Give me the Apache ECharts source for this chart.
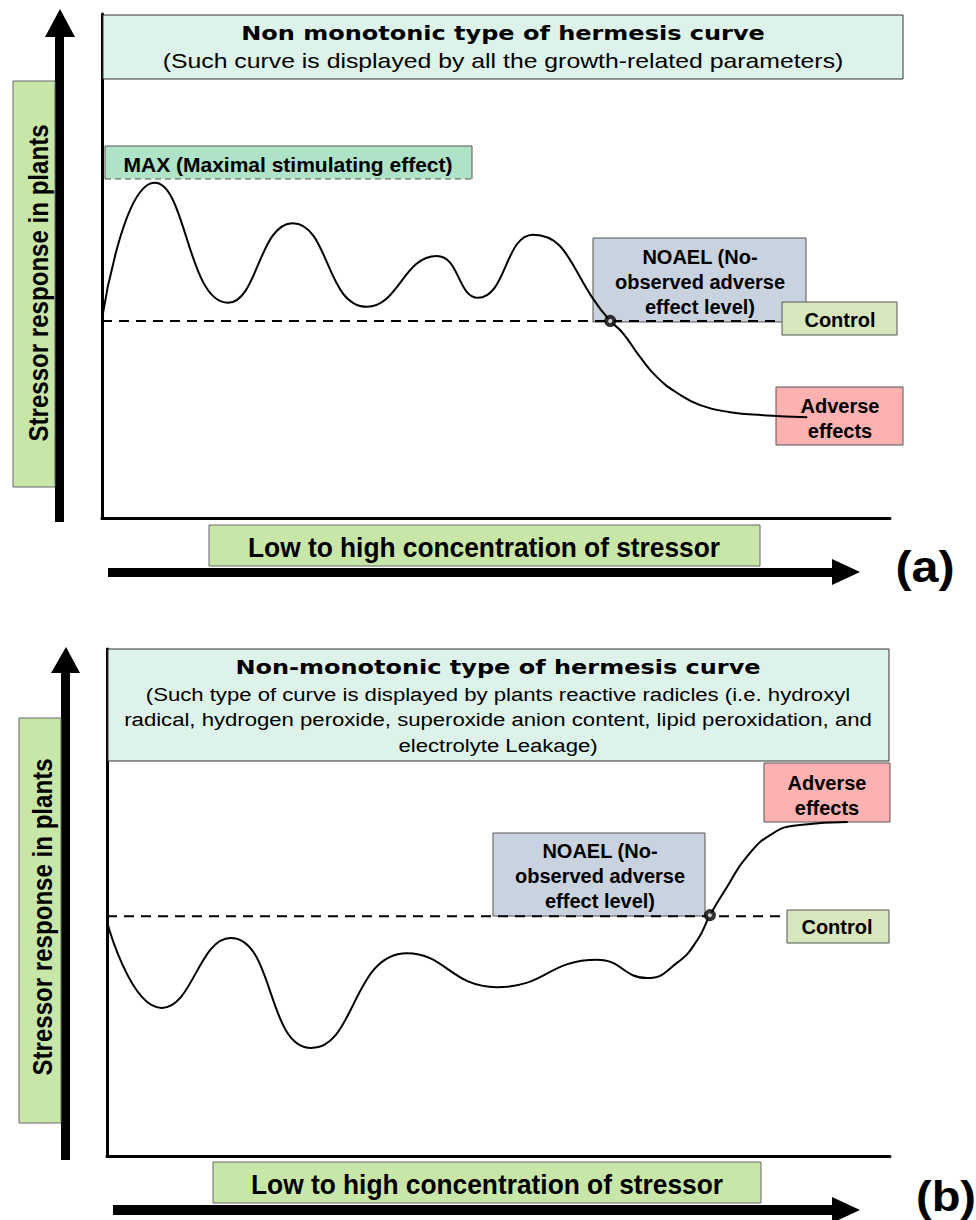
<!DOCTYPE html>
<html>
<head>
<meta charset="utf-8">
<script src="https://cdn.jsdelivr.net/npm/echarts@6/dist/echarts.min.js"></script>
<style>
  html, body { margin: 0; padding: 0; background: #fff; }
  #main { width: 976px; height: 1220px; }
</style>
</head>
<body>
<div id="main"></div>
<script>
// (a) growth-related parameters, x = concentration (0-100), y = response (0-100)
const concA = [0, 6.7, 16.0, 24.2, 33.6, 42.5, 47.7, 54.7, 64.5, 66.1, 68.3, 70.4, 73.0, 75.9, 79.7, 83.9, 89.5];
const respA = [39.5, 66.5, 42.7, 58.5, 41.9, 52.0, 43.7, 56.2, 39.1, 36.7, 31.9, 28.0, 24.8, 22.4, 21.0, 20.4, 20.0];
const controlA = 39.1;
const controlEndA = 86.3;
const noaelA = [64.5, 39.1];

// (b) reactive radicles
const concB = [0, 7.0, 15.8, 26.1, 38.3, 49.8, 62.6, 69.0, 72.8, 75.4, 77.0, 79.2, 81.7, 85.1, 88.5, 94.6];
const respB = [46.2, 29.2, 43.0, 21.3, 40.0, 33.3, 38.7, 35.1, 38.1, 42.6, 47.5, 53.1, 59.0, 63.7, 65.3, 65.9];
const controlB = 47.3;
const controlEndB = 86.6;
const noaelB = [77.0, 47.5];

const titleA = 'Non monotonic type of hermesis curve';
const subA = '(Such curve is displayed by all the growth-related parameters)';
const titleB = 'Non-monotonic type of hermesis curve';
const subB = [
  '(Such type of curve is displayed by plants reactive radicles (i.e. hydroxyl',
  'radical, hydrogen peroxide, superoxide anion content, lipid peroxidation, and',
  'electrolyte Leakage)'
];
const yName = 'Stressor response in plants';
const xName = 'Low to high concentration of stressor';
const maxText = 'MAX (Maximal stimulating effect)';
const noaelText = 'NOAEL (No-\nobserved adverse\neffect level)';
const controlText = 'Control';
const adverseText = 'Adverse\neffects';

const zip = (xs, ys) => xs.map((x, i) => [x, ys[i]]);

const SANS = "'Liberation Sans', Arial, sans-serif";
const WIDE = "'DejaVu Sans', Verdana, sans-serif";

function box(x, y, w, h, fill, stroke) {
  return { type: 'rect', z: 1, shape: { x: x, y: y, width: w, height: h },
    style: { fill: fill, stroke: stroke || '#555', lineWidth: 1 } };
}
function txt(x, y, text, font, opt) {
  opt = opt || {};
  return { type: 'text', z: 3, x: x, y: y, scaleX: opt.sx || 1, rotation: opt.rot || 0,
    style: { text: text, font: font, fill: '#000', align: 'center', verticalAlign: 'middle',
      textAlign: 'center', textVerticalAlign: 'middle', lineHeight: opt.lh || 20 } };
}
function arrow(pts) {
  return { type: 'polygon', z: 1, shape: { points: pts }, style: { fill: '#000' } };
}

const axisStyle = {
  type: 'value', min: 0, max: 100,
  axisLine: { show: true, onZero: false, lineStyle: { color: '#000', width: 3 } },
  axisTick: { show: false }, axisLabel: { show: false }, splitLine: { show: false }
};

const chart = echarts.init(document.getElementById('main'), null, { renderer: 'svg' });

const curve = (name, idx, data) => ({
  name: name, type: 'line', xAxisIndex: idx, yAxisIndex: idx, z: 5,
  data: data, smooth: 0.5, showSymbol: false, silent: true,
  lineStyle: { color: '#000', width: 2 }
});
const control = (idx, y, end) => ({
  type: 'line', xAxisIndex: idx, yAxisIndex: idx, z: 4, showSymbol: false, silent: true,
  data: [[0, y], [end, y]], lineStyle: { color: '#000', width: 2, type: [10, 7] }
});
const marker = (idx, pt) => ({
  type: 'scatter', xAxisIndex: idx, yAxisIndex: idx, z: 6, silent: true,
  data: [pt], symbol: 'circle', symbolSize: 8,
  itemStyle: { color: '#fff', borderColor: '#000', borderWidth: 4 }
});

chart.setOption({
  animation: false,
  backgroundColor: '#fff',
  grid: [
    { left: 102, top: 14, width: 788, height: 504 },
    { left: 107, top: 649, width: 783, height: 507 }
  ],
  xAxis: [Object.assign({ gridIndex: 0 }, axisStyle), Object.assign({ gridIndex: 1 }, axisStyle)],
  yAxis: [Object.assign({ gridIndex: 0 }, axisStyle), Object.assign({ gridIndex: 1 }, axisStyle)],
  series: [
    curve('a', 0, zip(concA, respA)),
    control(0, controlA, controlEndA),
    marker(0, noaelA),
    curve('b', 1, zip(concB, respB)),
    control(1, controlB, controlEndB),
    marker(1, noaelB)
  ],
  graphic: [
    // panel (a)
    arrow([[55, 522], [55, 37], [45, 37], [60, 9], [75, 37], [64, 37], [64, 522]]),
    arrow([[108, 568], [832, 568], [832, 559], [860, 572], [832, 585], [832, 577], [108, 577]]),
    box(13, 81, 42, 406, '#c8e6a8', '#666'),
    txt(38, 283, yName, 'bold 28px ' + SANS, { rot: Math.PI / 2, sx: 0.86 }),
    box(209, 525, 551, 41, '#c8e6a8', '#666'),
    txt(484, 547, xName, 'bold 28px ' + SANS, { sx: 0.94 }),
    box(103, 15, 800, 64, '#ddf2e8', '#333'),
    txt(503, 33, titleA, 'bold 20px ' + WIDE, { sx: 1.2 }),
    txt(503, 61, subA, '20px ' + SANS, { sx: 1.24 }),
    { type: 'polyline', z: 1, shape: { points: [[105, 179], [105, 146], [472, 146], [472, 179]] },
      style: { fill: '#aee3c7', stroke: '#555', lineWidth: 1 } },
    { type: 'line', z: 2, shape: { x1: 105, y1: 179, x2: 472, y2: 179 },
      style: { stroke: '#555', lineWidth: 1, lineDash: [6, 4] } },
    txt(288, 164, maxText, 'bold 21px ' + SANS),
    box(593, 238, 213, 84, '#c9d2df'),
    txt(700, 282, noaelText, 'bold 20px ' + SANS, { lh: 25 }),
    box(782, 302, 115, 33, '#d8e6bd'),
    txt(840, 320, controlText, 'bold 20px ' + SANS),
    box(776, 387, 127, 58, '#fdb1b1'),
    txt(840, 418, adverseText, 'bold 20px ' + SANS, { lh: 25 }),
    txt(925, 567, '(a)', 'bold 44px ' + SANS, { sx: 1.1 }),

    // panel (b)
    arrow([[61, 1160], [61, 673], [51, 673], [66, 647], [80, 673], [70, 673], [70, 1160]]),
    arrow([[113, 1205], [832, 1205], [832, 1197], [860, 1210], [832, 1223], [832, 1215], [113, 1215]]),
    box(19, 718, 42, 405, '#c8e6a8', '#666'),
    txt(42, 917, yName, 'bold 28px ' + SANS, { rot: Math.PI / 2, sx: 0.86 }),
    box(213, 1162, 548, 41, '#c8e6a8', '#666'),
    txt(487, 1184, xName, 'bold 28px ' + SANS, { sx: 0.94 }),
    box(108, 649, 781, 112, '#ddf2e8', '#333'),
    txt(498, 667, titleB, 'bold 20px ' + WIDE, { sx: 1.2 }),
    txt(498, 720, subB.join('\n'), '18px ' + SANS, { sx: 1.23, lh: 25.5 }),
    box(493, 833, 212, 83, '#c9d2df'),
    txt(600, 876, noaelText, 'bold 20px ' + SANS, { lh: 25 }),
    box(764, 763, 126, 59, '#fdb1b1'),
    txt(827, 795, adverseText, 'bold 20px ' + SANS, { lh: 25 }),
    box(787, 910, 102, 33, '#d8e6bd'),
    txt(837, 927, controlText, 'bold 20px ' + SANS),
    txt(946, 1196, '(b)', 'bold 42px ' + SANS, { sx: 1.12 })
  ]
});
</script>
</body>
</html>
